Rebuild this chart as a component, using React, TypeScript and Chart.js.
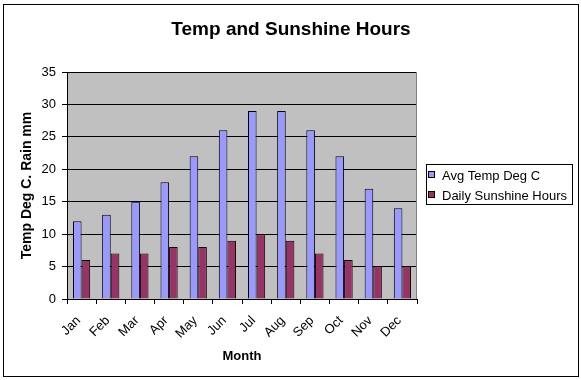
import React, { useEffect, useRef } from "react";
import { Chart, registerables } from "chart.js";

Chart.register(...registerables);

const months = ["Jan", "Feb", "Mar", "Apr", "May", "Jun", "Jul", "Aug", "Sep", "Oct", "Nov", "Dec"];
const avgTemp = [12, 13, 15, 18, 22, 26, 29, 29, 26, 22, 17, 14];
const sunshine = [6, 7, 7, 8, 8, 9, 10, 9, 7, 6, 5, 5];
const seriesNames = ["Avg Temp Deg C", "Daily Sunshine Hours"];
const chartTitle = "Temp and Sunshine Hours";
const yTitle = "Temp Deg C. Rain mm";
const xTitle = "Month";

const FONT = '"Liberation Sans", Arial, sans-serif';

const decorPlugin = {
  id: "decor",
  beforeDraw(chart: any) {
    const { ctx, chartArea } = chart;
    ctx.save();
    ctx.fillStyle = "#ffffff";
    ctx.fillRect(0, 0, chart.width, chart.height);
    ctx.fillStyle = "#C0C0C0";
    ctx.fillRect(chartArea.left, chartArea.top, chartArea.right - chartArea.left, chartArea.bottom - chartArea.top);
    ctx.restore();
  },
  afterDraw(chart: any) {
    const { ctx, chartArea } = chart;
    ctx.save();
    // plot area right border
    ctx.strokeStyle = "#808080";
    ctx.lineWidth = 1;
    ctx.beginPath();
    ctx.moveTo(Math.round(chartArea.right) - 0.5, chartArea.top);
    ctx.lineTo(Math.round(chartArea.right) - 0.5, chartArea.bottom);
    ctx.stroke();
    // outer border
    ctx.strokeStyle = "#000000";
    ctx.strokeRect(3.5, 4.5, 575, 372);
    // title
    ctx.fillStyle = "#000";
    ctx.font = "bold 19px " + FONT;
    ctx.textAlign = "center";
    ctx.textBaseline = "middle";
    ctx.fillText(chartTitle, 291, 30);
    // legend
    ctx.strokeRect(426.5, 164.5, 146, 40);
    ctx.font = "13px " + FONT;
    ctx.textAlign = "left";
    chart.data.datasets.forEach((ds: any, i: number) => {
      const cy = 175 + i * 20;
      ctx.fillStyle = ds.backgroundColor;
      ctx.fillRect(428, cy - 3, 6, 6);
      ctx.strokeStyle = "#000";
      ctx.strokeRect(428.5, cy - 3.5, 6, 6);
      ctx.fillStyle = "#000";
      ctx.fillText(ds.label, 442, cy + 1);
    });
    ctx.restore();
  },
};

export default function App() {
  const ref = useRef<HTMLCanvasElement>(null);
  useEffect(() => {
    if (!ref.current) return;
    const chart = new Chart(ref.current, {
      type: "bar",
      data: {
        labels: months,
        datasets: [
          {
            label: seriesNames[0],
            data: avgTemp,
            backgroundColor: "#9999FF",
            borderColor: "#000000",
            borderWidth: 1,
            categoryPercentage: 0.59,
            barPercentage: 1,
          },
          {
            label: seriesNames[1],
            data: sunshine,
            backgroundColor: "#993366",
            borderColor: "#000000",
            borderWidth: 1,
            categoryPercentage: 0.59,
            barPercentage: 1,
          },
        ],
      },
      options: {
        responsive: false,
        animation: false,
        devicePixelRatio: 1,
        layout: { padding: { left: 4, top: 72, right: 164, bottom: 4 } },
        plugins: {
          legend: { display: false },
          title: { display: false },
          tooltip: { enabled: false },
        },
        scales: {
          x: {
            afterFit: (s: any) => {
              s.height = 77;
            },
            grid: {
              display: true,
              drawOnChartArea: false,
              drawTicks: true,
              tickLength: 5,
              color: "#000",
              offset: true,
            },
            border: { display: true, color: "#000" },
            ticks: {
              color: "#000",
              font: { family: FONT, size: 13 },
              minRotation: 45,
              maxRotation: 45,
              padding: 9,
              labelOffset: -3,
              autoSkip: false,
            },
            title: {
              display: true,
              text: xTitle,
              color: "#000",
              font: { family: FONT, size: 13, weight: "bold" },
              padding: { top: 0, bottom: 12 },
            },
          },
          y: {
            min: 0,
            max: 35,
            afterFit: (s: any) => {
              s.width = 63;
            },
            grid: { color: "#000", tickLength: 5, drawTicks: true },
            border: { display: true, color: "#000" },
            ticks: {
              stepSize: 5,
              color: "#000",
              font: { family: FONT, size: 13 },
              padding: 6,
            },
            title: {
              display: true,
              text: yTitle,
              color: "#000",
              font: { family: FONT, size: 14, weight: "bold" },
              padding: { top: 15, bottom: 0 },
            },
          },
        },
      },
      plugins: [decorPlugin],
    });
    return () => chart.destroy();
  }, []);
  return (
    <div style={{ position: "fixed", left: 0, top: 0, width: 581, height: 380 }}>
      <canvas ref={ref} width={581} height={380} style={{ display: "block" }} />
    </div>
  );
}
